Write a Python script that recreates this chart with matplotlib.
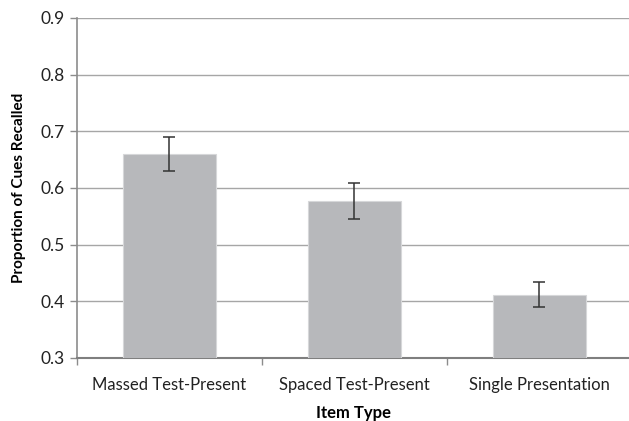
import numpy as np
import matplotlib
matplotlib.use("Agg")
import matplotlib.pyplot as plt

categories = ["Massed Test-Present", "Spaced Test-Present", "Single Presentation"]
means = [0.660, 0.577, 0.411]
err_low = [0.030, 0.031, 0.021]
err_high = [0.030, 0.031, 0.023]

plt.rcParams['font.family'] = ['Lato', 'DejaVu Sans']

fig = plt.figure(figsize=(6.29, 4.21), dpi=100)
ax = fig.add_axes([77/629, 63/421, 555/629, 340/421])

x = np.arange(len(categories))
ax.bar(x, means, width=0.5, color="#b7b8bb", edgecolor="#d6d7d9", linewidth=0.8, zorder=3)
ax.errorbar(x, means, yerr=[err_low, err_high], fmt="none", ecolor="#333333",
            elinewidth=1.1, capsize=4, capthick=1.1, zorder=4)

ax.set_ylim(0.3, 0.9)
ax.set_xlim(-0.5, 2.5)
ax.set_yticks(np.arange(0.3, 0.91, 0.1))
ax.set_yticklabels(["%.1f" % v for v in np.arange(0.3, 0.91, 0.1)], fontsize=12.5, color="#222222")
ax.yaxis.grid(True, color="#a6a6a6", linewidth=1.0, zorder=0)
ax.set_axisbelow(True)

ax.set_xticks(x)
ax.set_xticklabels(categories, fontsize=12, color="#222222")
ax.tick_params(axis="x", which="major", length=0, pad=14)
ax.set_xticks([-0.5, 0.5, 1.5], minor=True)
ax.tick_params(axis="x", which="minor", length=5, color="#8c8c8c", width=1)
ax.tick_params(axis="y", length=5, color="#8c8c8c", width=1, pad=4)

for s in ["top", "right"]:
    ax.spines[s].set_visible(False)
ax.spines["left"].set_color("#8c8c8c")
ax.spines["bottom"].set_color("#7f7f7f")
ax.spines["left"].set_linewidth(1.2)
ax.spines["bottom"].set_linewidth(1.5)

ax.set_ylabel("Proportion of Cues Recalled", fontsize=11, fontweight="bold", labelpad=10)
# x label sits just above the bottom edge
fig.text(354/629, 8/421, "Item Type", fontsize=12, fontweight="bold", ha="center", va="center")

fig.savefig("out.png", dpi=100)
